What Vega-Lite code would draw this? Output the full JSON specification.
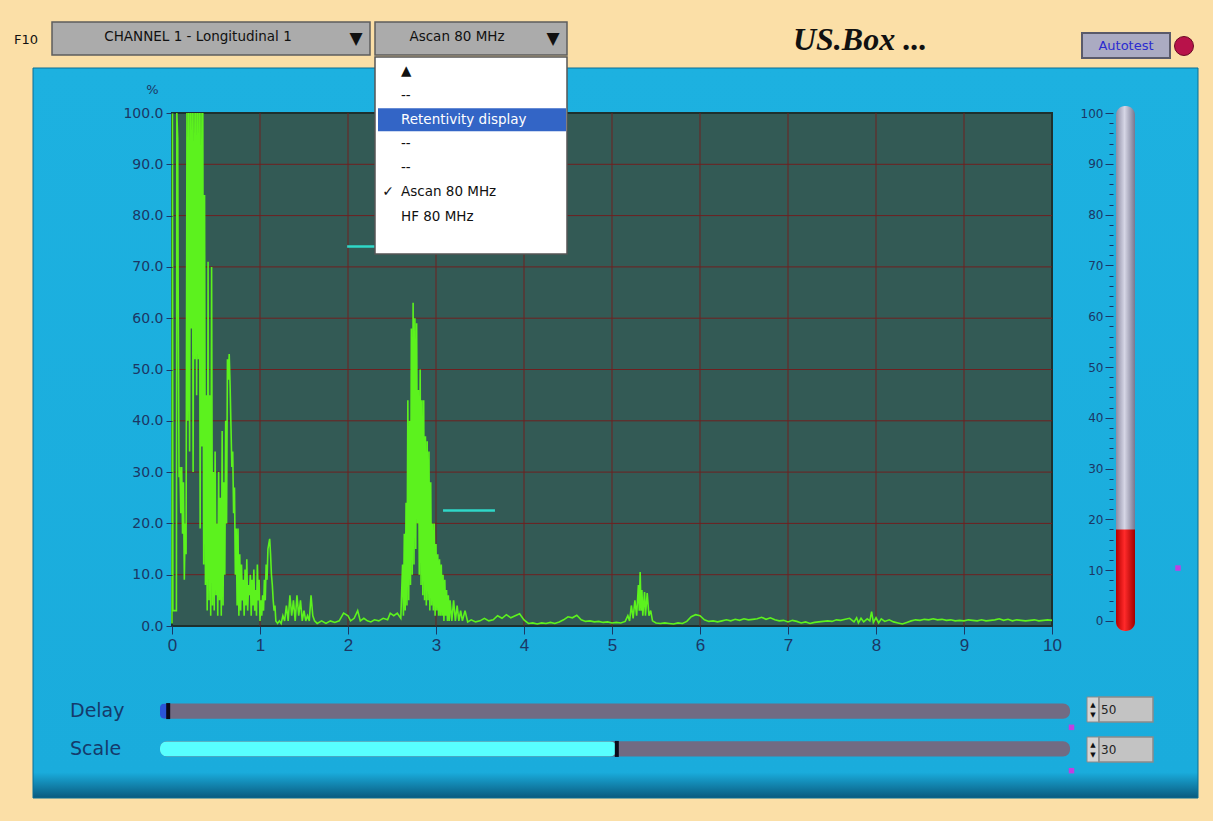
{
  "$schema": "https://vega.github.io/schema/vega-lite/v6.json",
  "width": 880,
  "height": 513,
  "autosize": "none",
  "padding": {"left": 172, "top": 113, "right": 161, "bottom": 195},
  "background": "#FBDFA7",
  "config": {"view": {"stroke": null}},
  "resolve": {"scale": {"x": "independent", "y": "independent"}, "axis": {"x": "independent", "y": "independent"}},
  "layer": [
    {
      "data": {"values": [{"panel": "US.Box"}]},
      "mark": {"type": "rect", "stroke": "#0B6E95", "strokeWidth": 1, "fill": {"gradient": "linear", "x1": 0, "y1": 0, "x2": 0, "y2": 1, "stops": [{"offset": 0, "color": "#1DB1E0"}, {"offset": 0.965, "color": "#1AACDC"}, {"offset": 1, "color": "#0A5A7E"}]}},
      "encoding": {
        "x": {"field": "panel", "type": "nominal", "scale": {"type": "band", "range": [-139, 1026], "paddingInner": 0, "paddingOuter": 0}, "axis": null},
        "y": {"field": "panel", "type": "nominal", "scale": {"type": "band", "range": [-45, 685], "paddingInner": 0, "paddingOuter": 0}, "axis": null}
      }
    },
    {
      "data": {"values": [{"area": "A-scan"}]},
      "mark": {"type": "rect", "fill": "#335A55", "stroke": "#1E302D", "strokeWidth": 2},
      "encoding": {
        "x": {"field": "area", "type": "nominal", "scale": {"type": "band", "range": [0, 880], "paddingInner": 0, "paddingOuter": 0}, "axis": null},
        "y": {"field": "area", "type": "nominal", "scale": {"type": "band", "range": [0, 513], "paddingInner": 0, "paddingOuter": 0}, "axis": null}
      }
    },
    {
      "layer": [
        {
          "data": {"values": [{"t": 1}, {"t": 2}, {"t": 3}, {"t": 4}, {"t": 5}, {"t": 6}, {"t": 7}, {"t": 8}, {"t": 9}]},
          "mark": {"type": "rule", "color": "#6E2020", "strokeWidth": 1},
          "encoding": {"x": {"field": "t", "type": "quantitative", "scale": {"domain": [0, 10], "nice": false, "zero": false}}}
        },
        {
          "data": {"values": [{"p": 10}, {"p": 20}, {"p": 30}, {"p": 40}, {"p": 50}, {"p": 60}, {"p": 70}, {"p": 80}, {"p": 90}]},
          "mark": {"type": "rule", "color": "#6E2020", "strokeWidth": 1},
          "encoding": {"y": {"field": "p", "type": "quantitative", "scale": {"domain": [0, 100], "nice": false}}}
        },
        {
          "data": {"values": [{"gate": "A", "start": 1.99, "end": 2.6, "level": 74}, {"gate": "B", "start": 3.08, "end": 3.67, "level": 22.5}]},
          "mark": {"type": "rule", "color": "#2FD8C8", "strokeWidth": 2.5},
          "encoding": {
            "x": {"field": "start", "type": "quantitative", "scale": {"domain": [0, 10], "nice": false, "zero": false}},
            "x2": {"field": "end"},
            "y": {"field": "level", "type": "quantitative", "scale": {"domain": [0, 100], "nice": false}}
          }
        },
        {
          "data": {"values": [
            {"time":0,"amplitude":0.5},{"time":0.005,"amplitude":100},{"time":0.01,"amplitude":3},{"time":0.03,"amplitude":3},{"time":0.05,"amplitude":3},{"time":0.055,"amplitude":100},{"time":0.065,"amplitude":95},{"time":0.07,"amplitude":67},{"time":0.08,"amplitude":29},{"time":0.09,"amplitude":31},{"time":0.1,"amplitude":22},{"time":0.11,"amplitude":31},{"time":0.12,"amplitude":18},{"time":0.13,"amplitude":28},{"time":0.14,"amplitude":9},{"time":0.15,"amplitude":20},{"time":0.16,"amplitude":14},{"time":0.17,"amplitude":100},{"time":0.18,"amplitude":40},{"time":0.19,"amplitude":100},{"time":0.2,"amplitude":34},{"time":0.21,"amplitude":100},{"time":0.22,"amplitude":58},{"time":0.23,"amplitude":100},{"time":0.24,"amplitude":30},{"time":0.25,"amplitude":100},{"time":0.26,"amplitude":52},{"time":0.27,"amplitude":100},{"time":0.28,"amplitude":45},{"time":0.29,"amplitude":100},{"time":0.3,"amplitude":52},{"time":0.31,"amplitude":100},{"time":0.32,"amplitude":19},{"time":0.33,"amplitude":100},{"time":0.34,"amplitude":35},{"time":0.35,"amplitude":100},{"time":0.36,"amplitude":12},{"time":0.37,"amplitude":84},{"time":0.38,"amplitude":8},{"time":0.39,"amplitude":45},{"time":0.4,"amplitude":3},{"time":0.41,"amplitude":71},{"time":0.42,"amplitude":5},{"time":0.43,"amplitude":45},{"time":0.44,"amplitude":2},{"time":0.45,"amplitude":70},{"time":0.46,"amplitude":4},{"time":0.47,"amplitude":30},{"time":0.48,"amplitude":3},{"time":0.49,"amplitude":34},{"time":0.5,"amplitude":6},{"time":0.51,"amplitude":20},{"time":0.52,"amplitude":2},{"time":0.53,"amplitude":30},{"time":0.54,"amplitude":5},{"time":0.55,"amplitude":25},{"time":0.56,"amplitude":2},{"time":0.57,"amplitude":38},{"time":0.58,"amplitude":4},{"time":0.59,"amplitude":28},{"time":0.6,"amplitude":10},{"time":0.61,"amplitude":40},{"time":0.62,"amplitude":20},{"time":0.63,"amplitude":52},{"time":0.64,"amplitude":48},{"time":0.65,"amplitude":53},{"time":0.66,"amplitude":47},{"time":0.67,"amplitude":39},{"time":0.68,"amplitude":31},{"time":0.69,"amplitude":34},{"time":0.7,"amplitude":22},{"time":0.71,"amplitude":27},{"time":0.72,"amplitude":10},{"time":0.73,"amplitude":19},{"time":0.74,"amplitude":4},{"time":0.75,"amplitude":19},{"time":0.76,"amplitude":2},{"time":0.77,"amplitude":14},{"time":0.78,"amplitude":3},{"time":0.79,"amplitude":12},{"time":0.8,"amplitude":5},{"time":0.81,"amplitude":9},{"time":0.82,"amplitude":2},{"time":0.83,"amplitude":11},{"time":0.84,"amplitude":4},{"time":0.85,"amplitude":13},{"time":0.86,"amplitude":3},{"time":0.87,"amplitude":8},{"time":0.88,"amplitude":6},{"time":0.89,"amplitude":10},{"time":0.9,"amplitude":2},{"time":0.91,"amplitude":9},{"time":0.92,"amplitude":4},{"time":0.93,"amplitude":11},{"time":0.94,"amplitude":3},{"time":0.95,"amplitude":7},{"time":0.96,"amplitude":2},{"time":0.97,"amplitude":12},{"time":0.98,"amplitude":5},{"time":0.99,"amplitude":9},{"time":1,"amplitude":1},{"time":1.01,"amplitude":5},{"time":1.02,"amplitude":2},{"time":1.03,"amplitude":6},{"time":1.04,"amplitude":3},{"time":1.05,"amplitude":9},{"time":1.06,"amplitude":5},{"time":1.07,"amplitude":12},{"time":1.08,"amplitude":9},{"time":1.09,"amplitude":15},{"time":1.1,"amplitude":16},{"time":1.11,"amplitude":17},{"time":1.12,"amplitude":14},{"time":1.13,"amplitude":10},{"time":1.14,"amplitude":8},{"time":1.15,"amplitude":5},{"time":1.16,"amplitude":3},{"time":1.17,"amplitude":4},{"time":1.18,"amplitude":1},{"time":1.2,"amplitude":0.5},{"time":1.22,"amplitude":1},{"time":1.24,"amplitude":0.5},{"time":1.26,"amplitude":2},{"time":1.28,"amplitude":1},{"time":1.3,"amplitude":4},{"time":1.32,"amplitude":1},{"time":1.34,"amplitude":6},{"time":1.36,"amplitude":2},{"time":1.38,"amplitude":5},{"time":1.4,"amplitude":1},{"time":1.42,"amplitude":6},{"time":1.44,"amplitude":2},{"time":1.46,"amplitude":5},{"time":1.48,"amplitude":1},{"time":1.5,"amplitude":3},{"time":1.52,"amplitude":1},{"time":1.54,"amplitude":2},{"time":1.56,"amplitude":1},{"time":1.58,"amplitude":6},{"time":1.6,"amplitude":2},{"time":1.62,"amplitude":1},{"time":1.65,"amplitude":0.5},{"time":1.7,"amplitude":1},{"time":1.75,"amplitude":0.5},{"time":1.8,"amplitude":1},{"time":1.85,"amplitude":0.7},{"time":1.9,"amplitude":1},{"time":1.95,"amplitude":2.5},{"time":2,"amplitude":2},{"time":2.03,"amplitude":1},{"time":2.07,"amplitude":1.5},{"time":2.11,"amplitude":3},{"time":2.14,"amplitude":1},{"time":2.18,"amplitude":1.5},{"time":2.22,"amplitude":1},{"time":2.26,"amplitude":0.8},{"time":2.3,"amplitude":1.2},{"time":2.35,"amplitude":1},{"time":2.4,"amplitude":1.5},{"time":2.45,"amplitude":1.2},{"time":2.48,"amplitude":2.5},{"time":2.52,"amplitude":2},{"time":2.56,"amplitude":2.5},{"time":2.6,"amplitude":1.5},{"time":2.62,"amplitude":12},{"time":2.63,"amplitude":2},{"time":2.64,"amplitude":18},{"time":2.65,"amplitude":3},{"time":2.66,"amplitude":24},{"time":2.67,"amplitude":4},{"time":2.68,"amplitude":44},{"time":2.69,"amplitude":5},{"time":2.7,"amplitude":40},{"time":2.71,"amplitude":8},{"time":2.72,"amplitude":58},{"time":2.73,"amplitude":10},{"time":2.74,"amplitude":63},{"time":2.75,"amplitude":12},{"time":2.76,"amplitude":60},{"time":2.77,"amplitude":15},{"time":2.78,"amplitude":59},{"time":2.79,"amplitude":20},{"time":2.8,"amplitude":46},{"time":2.81,"amplitude":10},{"time":2.82,"amplitude":50},{"time":2.83,"amplitude":8},{"time":2.84,"amplitude":44},{"time":2.85,"amplitude":6},{"time":2.86,"amplitude":44},{"time":2.87,"amplitude":5},{"time":2.88,"amplitude":37},{"time":2.89,"amplitude":4},{"time":2.9,"amplitude":36},{"time":2.91,"amplitude":5},{"time":2.92,"amplitude":34},{"time":2.93,"amplitude":3},{"time":2.94,"amplitude":28},{"time":2.95,"amplitude":4},{"time":2.96,"amplitude":20},{"time":2.97,"amplitude":3},{"time":2.98,"amplitude":20},{"time":2.99,"amplitude":2},{"time":3,"amplitude":16},{"time":3.01,"amplitude":3},{"time":3.02,"amplitude":14},{"time":3.03,"amplitude":2},{"time":3.04,"amplitude":13},{"time":3.05,"amplitude":2},{"time":3.06,"amplitude":12},{"time":3.07,"amplitude":2},{"time":3.08,"amplitude":10},{"time":3.09,"amplitude":1},{"time":3.1,"amplitude":9},{"time":3.11,"amplitude":2},{"time":3.12,"amplitude":7},{"time":3.13,"amplitude":1},{"time":3.14,"amplitude":6},{"time":3.15,"amplitude":1},{"time":3.16,"amplitude":5},{"time":3.18,"amplitude":1},{"time":3.2,"amplitude":5},{"time":3.22,"amplitude":1},{"time":3.24,"amplitude":4},{"time":3.26,"amplitude":1},{"time":3.28,"amplitude":3},{"time":3.3,"amplitude":1},{"time":3.33,"amplitude":3},{"time":3.36,"amplitude":0.8},{"time":3.4,"amplitude":1.2},{"time":3.45,"amplitude":0.8},{"time":3.5,"amplitude":1},{"time":3.55,"amplitude":1.5},{"time":3.6,"amplitude":1},{"time":3.65,"amplitude":1.2},{"time":3.7,"amplitude":2},{"time":3.75,"amplitude":1.5},{"time":3.8,"amplitude":2.2},{"time":3.85,"amplitude":1.6},{"time":3.9,"amplitude":2},{"time":3.95,"amplitude":2.4},{"time":4,"amplitude":1.2},{"time":4.05,"amplitude":0.5},{"time":4.1,"amplitude":0.6},{"time":4.15,"amplitude":0.4},{"time":4.2,"amplitude":0.6},{"time":4.25,"amplitude":0.5},{"time":4.3,"amplitude":0.7},{"time":4.35,"amplitude":0.5},{"time":4.4,"amplitude":0.8},{"time":4.45,"amplitude":1.2},{"time":4.5,"amplitude":1.8},{"time":4.55,"amplitude":1.6},{"time":4.6,"amplitude":2.1},{"time":4.65,"amplitude":1.2},{"time":4.7,"amplitude":0.9},{"time":4.75,"amplitude":1},{"time":4.8,"amplitude":0.8},{"time":4.85,"amplitude":0.9},{"time":4.9,"amplitude":0.7},{"time":4.95,"amplitude":0.8},{"time":5,"amplitude":0.6},{"time":5.05,"amplitude":0.7},{"time":5.1,"amplitude":0.6},{"time":5.15,"amplitude":0.9},{"time":5.18,"amplitude":2},{"time":5.2,"amplitude":1},{"time":5.22,"amplitude":4},{"time":5.24,"amplitude":1.5},{"time":5.26,"amplitude":5},{"time":5.28,"amplitude":2},{"time":5.3,"amplitude":8},{"time":5.31,"amplitude":3},{"time":5.32,"amplitude":10.5},{"time":5.33,"amplitude":3},{"time":5.34,"amplitude":7},{"time":5.35,"amplitude":2},{"time":5.37,"amplitude":6.6},{"time":5.38,"amplitude":2},{"time":5.4,"amplitude":6.4},{"time":5.42,"amplitude":2},{"time":5.44,"amplitude":3},{"time":5.46,"amplitude":1},{"time":5.5,"amplitude":0.6},{"time":5.55,"amplitude":0.5},{"time":5.6,"amplitude":0.6},{"time":5.65,"amplitude":0.5},{"time":5.7,"amplitude":0.4},{"time":5.75,"amplitude":0.6},{"time":5.8,"amplitude":0.5},{"time":5.85,"amplitude":0.9},{"time":5.9,"amplitude":1.8},{"time":5.95,"amplitude":2.2},{"time":6,"amplitude":2},{"time":6.05,"amplitude":1.2},{"time":6.1,"amplitude":0.9},{"time":6.15,"amplitude":1},{"time":6.2,"amplitude":0.8},{"time":6.25,"amplitude":1},{"time":6.3,"amplitude":1.2},{"time":6.35,"amplitude":1},{"time":6.4,"amplitude":1.3},{"time":6.45,"amplitude":1.1},{"time":6.5,"amplitude":1.4},{"time":6.55,"amplitude":1.2},{"time":6.6,"amplitude":1.3},{"time":6.65,"amplitude":1.4},{"time":6.7,"amplitude":1.7},{"time":6.75,"amplitude":1.3},{"time":6.8,"amplitude":1.6},{"time":6.85,"amplitude":1.2},{"time":6.9,"amplitude":1},{"time":6.95,"amplitude":1.1},{"time":7,"amplitude":0.8},{"time":7.05,"amplitude":1.1},{"time":7.1,"amplitude":0.9},{"time":7.15,"amplitude":0.6},{"time":7.2,"amplitude":0.8},{"time":7.25,"amplitude":0.5},{"time":7.3,"amplitude":0.7},{"time":7.35,"amplitude":0.8},{"time":7.4,"amplitude":0.9},{"time":7.45,"amplitude":1},{"time":7.5,"amplitude":0.9},{"time":7.55,"amplitude":1.2},{"time":7.6,"amplitude":1.1},{"time":7.65,"amplitude":1.3},{"time":7.7,"amplitude":1.5},{"time":7.75,"amplitude":0.8},{"time":7.78,"amplitude":1.6},{"time":7.8,"amplitude":0.6},{"time":7.83,"amplitude":1.5},{"time":7.86,"amplitude":0.8},{"time":7.9,"amplitude":1.4},{"time":7.93,"amplitude":1},{"time":7.95,"amplitude":2.8},{"time":7.97,"amplitude":0.7},{"time":8,"amplitude":1.6},{"time":8.03,"amplitude":0.6},{"time":8.06,"amplitude":1.4},{"time":8.1,"amplitude":0.9},{"time":8.15,"amplitude":1.2},{"time":8.2,"amplitude":0.8},{"time":8.25,"amplitude":0.6},{"time":8.3,"amplitude":0.4},{"time":8.35,"amplitude":0.7},{"time":8.4,"amplitude":1},{"time":8.45,"amplitude":1.2},{"time":8.5,"amplitude":1.1},{"time":8.55,"amplitude":1.3},{"time":8.6,"amplitude":1.2},{"time":8.65,"amplitude":1.4},{"time":8.7,"amplitude":1.2},{"time":8.75,"amplitude":1.3},{"time":8.8,"amplitude":1.1},{"time":8.85,"amplitude":1.2},{"time":8.9,"amplitude":1},{"time":8.95,"amplitude":1.1},{"time":9,"amplitude":1},{"time":9.05,"amplitude":1.2},{"time":9.1,"amplitude":1.1},{"time":9.15,"amplitude":1},{"time":9.2,"amplitude":1.2},{"time":9.25,"amplitude":1},{"time":9.3,"amplitude":1.1},{"time":9.35,"amplitude":1.2},{"time":9.4,"amplitude":1.4},{"time":9.45,"amplitude":1.1},{"time":9.5,"amplitude":1.3},{"time":9.55,"amplitude":1},{"time":9.6,"amplitude":1.2},{"time":9.65,"amplitude":1.1},{"time":9.7,"amplitude":1},{"time":9.75,"amplitude":1.1},{"time":9.8,"amplitude":1.2},{"time":9.85,"amplitude":1},{"time":9.9,"amplitude":1.1},{"time":9.95,"amplitude":1.2},{"time":10,"amplitude":1.1}
          ]},
          "mark": {"type": "line", "color": "#5CF21E", "strokeWidth": 1.6},
          "encoding": {
            "x": {"field": "time", "type": "quantitative", "scale": {"domain": [0, 10], "nice": false, "zero": false},
                  "axis": {"orient": "bottom", "values": [0,1,2,3,4,5,6,7,8,9,10], "format": "d", "title": null, "grid": false, "domain": false, "tickSize": 8, "tickColor": "#1C3765", "labelFont": "Liberation Sans", "labelFontSize": 17, "labelColor": "#1C3765", "labelPadding": 3, "labelFlush": false, "labelOverlap": false, "zindex": 1}},
            "y": {"field": "amplitude", "type": "quantitative", "scale": {"domain": [0, 100], "nice": false},
                  "axis": {"orient": "left", "values": [0,10,20,30,40,50,60,70,80,90,100], "format": ".1f", "title": "%", "titleAngle": 0, "titleX": -20, "titleY": -24, "titleAlign": "center", "titleBaseline": "middle", "titleFont": "DejaVu Sans", "titleFontSize": 13, "titleFontWeight": "normal", "titleColor": "#1C3765", "grid": false, "domain": false, "tickSize": 6, "tickColor": "#1C3765", "labelFont": "DejaVu Sans", "labelFontSize": 14, "labelColor": "#1C3765", "labelPadding": 3, "labelFlush": false, "labelOverlap": false, "zindex": 1}}
          }
        }
      ]
    },
    {
      "data": {"values": [{"gauge": "Level"}]},
      "mark": {"type": "rect", "cornerRadius": 9, "fill": {"gradient": "linear", "x1": 0, "y1": 0, "x2": 1, "y2": 0, "stops": [{"offset": 0, "color": "#8C8CA4"}, {"offset": 0.45, "color": "#D6D6E6"}, {"offset": 1, "color": "#77778F"}]}},
      "encoding": {
        "x": {"field": "gauge", "type": "nominal", "scale": {"type": "band", "range": [944, 963], "paddingInner": 0, "paddingOuter": 0}, "axis": null},
        "y": {"field": "gauge", "type": "nominal", "scale": {"type": "band", "range": [-7, 518], "paddingInner": 0, "paddingOuter": 0}, "axis": null}
      }
    },
    {
      "data": {"values": [{"gauge": "Level"}]},
      "mark": {"type": "rect", "cornerRadius": 9, "fill": {"gradient": "linear", "x1": 0, "y1": 0, "x2": 1, "y2": 0, "stops": [{"offset": 0, "color": "#B80000"}, {"offset": 0.45, "color": "#FF2A2A"}, {"offset": 1, "color": "#A00000"}]}},
      "encoding": {
        "x": {"field": "gauge", "type": "nominal", "scale": {"type": "band", "range": [944, 963], "paddingInner": 0, "paddingOuter": 0}, "axis": null},
        "y": {"field": "gauge", "type": "nominal", "scale": {"type": "band", "range": [499, 518], "paddingInner": 0, "paddingOuter": 0}, "axis": null}
      }
    },
    {
      "data": {"values": [{"gauge": "Level", "reading": 18}]},
      "mark": {"type": "bar", "opacity": 0},
      "encoding": {
        "x": {"field": "gauge", "type": "nominal", "scale": {"type": "band", "range": [944, 963], "paddingInner": 0, "paddingOuter": 0}, "axis": null},
        "y": {"field": "reading", "type": "quantitative", "scale": {"domain": [-2, 102], "range": [518, -10], "nice": false, "zero": false},
              "axis": {"orient": "left", "offset": -941, "values": [2,4,6,8,12,14,16,18,22,24,26,28,32,34,36,38,42,44,46,48,52,54,56,58,62,64,66,68,72,74,76,78,82,84,86,88,92,94,96,98], "labels": false, "title": null, "grid": false, "domain": false, "tickSize": 4, "tickColor": "#1C3765", "zindex": 1}}
      }
    },
    {
      "data": {"values": [{"gauge": "Level", "reading": 18}]},
      "mark": {"type": "bar", "fill": {"gradient": "linear", "x1": 0, "y1": 0, "x2": 1, "y2": 0, "stops": [{"offset": 0, "color": "#B80000"}, {"offset": 0.45, "color": "#FF2A2A"}, {"offset": 1, "color": "#A00000"}]}},
      "encoding": {
        "x": {"field": "gauge", "type": "nominal", "scale": {"type": "band", "range": [944, 963], "paddingInner": 0, "paddingOuter": 0}, "axis": null},
        "y": {"field": "reading", "type": "quantitative", "scale": {"domain": [-2, 102], "range": [518, -10], "nice": false, "zero": false},
              "axis": {"orient": "left", "offset": -941, "values": [0,10,20,30,40,50,60,70,80,90,100], "title": null, "grid": false, "domain": false, "tickSize": 8, "tickColor": "#1C3765", "labelFont": "DejaVu Sans", "labelFontSize": 12, "labelColor": "#1C3765", "labelPadding": 2, "labelFlush": false, "labelOverlap": false, "zindex": 1}}
      }
    },
    {
      "data": {"values": [{"marker": "Alarm level", "level": 10.4}]},
      "mark": {"type": "square", "size": 30, "color": "#C040E0", "opacity": 1},
      "encoding": {
        "x": {"field": "marker", "type": "nominal", "scale": {"type": "band", "range": [1001, 1011], "paddingInner": 0, "paddingOuter": 0}, "axis": null},
        "y": {"field": "level", "type": "quantitative", "scale": {"domain": [-2, 102], "range": [518, -10], "nice": false, "zero": false}, "axis": null}
      }
    },
    {
      "data": {"values": [{"track": "slider", "control": "Delay"}, {"track": "slider", "control": "Scale"}]},
      "mark": {"type": "rect", "fill": "#716B83", "cornerRadius": 7},
      "encoding": {
        "x": {"field": "track", "type": "nominal", "scale": {"type": "band", "range": [-12, 898], "paddingInner": 0, "paddingOuter": 0}, "axis": null},
        "y": {"field": "control", "type": "nominal", "scale": {"type": "band", "domain": ["Delay", "Scale"], "range": [590.5, 643.5], "paddingInner": 0.6, "paddingOuter": 0}, "axis": null}
      }
    },
    {
      "data": {"values": [{"control": "Delay", "position": 0.9}, {"control": "Scale", "position": 50.2}]},
      "mark": {"type": "bar", "cornerRadius": 7, "opacity": 1},
      "encoding": {
        "x": {"field": "position", "type": "quantitative", "scale": {"domain": [0, 100], "range": [-12, 898], "nice": false, "zero": false}, "axis": null},
        "y": {"field": "control", "type": "nominal", "scale": {"type": "band", "domain": ["Delay", "Scale"], "range": [590.5, 643.5], "paddingInner": 0.6, "paddingOuter": 0}, "axis": null},
        "color": {"field": "control", "type": "nominal", "scale": {"domain": ["Delay", "Scale"], "range": ["#2A55D8", "#58FFFF"]}, "legend": null}
      }
    },
    {
      "data": {"values": [{"control": "Delay", "position": 0.9}, {"control": "Scale", "position": 50.2}]},
      "mark": {"type": "tick", "color": "#0A0A1A", "thickness": 4, "size": 16, "opacity": 1},
      "encoding": {
        "x": {"field": "position", "type": "quantitative", "scale": {"domain": [0, 100], "range": [-12, 898], "nice": false, "zero": false}, "axis": null},
        "y": {"field": "control", "type": "nominal", "scale": {"type": "band", "domain": ["Delay", "Scale"], "range": [590.5, 643.5], "paddingInner": 0.6, "paddingOuter": 0}, "axis": null}
      }
    },
    {
      "data": {"values": [{"column": "labels", "control": "Delay"}, {"column": "labels", "control": "Scale"}]},
      "mark": {"type": "text", "align": "left", "baseline": "middle", "dx": -31, "font": "DejaVu Sans", "fontSize": 19, "color": "#153A6B"},
      "encoding": {
        "x": {"field": "column", "type": "nominal", "scale": {"type": "band", "range": [-102, -40], "paddingInner": 0, "paddingOuter": 0}, "axis": null},
        "y": {"field": "control", "type": "nominal", "scale": {"type": "band", "domain": ["Delay", "Scale"], "range": [590.5, 643.5], "paddingInner": 0.6, "paddingOuter": 0}, "axis": null},
        "text": {"field": "control", "type": "nominal"}
      }
    },
    {
      "data": {"values": [{"column": "marker", "control": "Delay"}, {"column": "marker", "control": "Scale"}]},
      "mark": {"type": "square", "size": 30, "color": "#C040E0", "opacity": 1},
      "encoding": {
        "x": {"field": "column", "type": "nominal", "scale": {"type": "band", "range": [895, 904], "paddingInner": 0, "paddingOuter": 0}, "axis": null},
        "y": {"field": "control", "type": "nominal", "scale": {"type": "band", "domain": ["Delay", "Scale"], "range": [610, 662], "paddingInner": 0.8, "paddingOuter": 0}, "axis": null}
      }
    },
    {
      "data": {"values": [{"column": "spinner", "control": "Delay"}, {"column": "spinner", "control": "Scale"}]},
      "encoding": {
        "x": {"field": "column", "type": "nominal", "scale": {"type": "band", "range": [915, 927], "paddingInner": 0, "paddingOuter": 0}, "axis": null},
        "y": {"field": "control", "type": "nominal", "scale": {"type": "band", "domain": ["Delay", "Scale"], "range": [584, 649], "paddingInner": 0.375, "paddingOuter": 0}, "axis": null}
      },
      "layer": [
        {"mark": {"type": "rect", "fill": "#D4D4D4", "stroke": "#8A8A8A", "strokeWidth": 1}, "encoding": {}},
        {"mark": {"type": "text", "text": "▲", "align": "center", "baseline": "middle", "dy": -5, "font": "DejaVu Sans", "fontSize": 7, "color": "#111111"}, "encoding": {}},
        {"mark": {"type": "text", "text": "▼", "align": "center", "baseline": "middle", "dy": 5, "font": "DejaVu Sans", "fontSize": 7, "color": "#111111"}, "encoding": {}}
      ]
    },
    {
      "data": {"values": [{"column": "value", "control": "Delay", "setting": 50}, {"column": "value", "control": "Scale", "setting": 30}]},
      "encoding": {
        "x": {"field": "column", "type": "nominal", "scale": {"type": "band", "range": [927, 981], "paddingInner": 0, "paddingOuter": 0}, "axis": null},
        "y": {"field": "control", "type": "nominal", "scale": {"type": "band", "domain": ["Delay", "Scale"], "range": [584, 649], "paddingInner": 0.375, "paddingOuter": 0}, "axis": null}
      },
      "layer": [
        {"mark": {"type": "rect", "fill": "#C3C3C3", "stroke": "#8A8A8A", "strokeWidth": 1.5}, "encoding": {}},
        {"mark": {"type": "text", "align": "left", "baseline": "middle", "dx": -25, "font": "DejaVu Sans", "fontSize": 12, "color": "#222222"}, "encoding": {"text": {"field": "setting", "type": "nominal"}}}
      ]
    },
    {
      "data": {"values": [{"station": "F10"}]},
      "mark": {"type": "text", "align": "center", "baseline": "middle", "font": "DejaVu Sans", "fontSize": 13, "color": "#111111"},
      "encoding": {
        "x": {"field": "station", "type": "nominal", "scale": {"type": "band", "range": [-160, -132], "paddingInner": 0, "paddingOuter": 0}, "axis": null},
        "y": {"field": "station", "type": "nominal", "scale": {"type": "band", "range": [-90, -56], "paddingInner": 0, "paddingOuter": 0}, "axis": null},
        "text": {"field": "station", "type": "nominal"}
      }
    },
    {
      "data": {"values": [{"selector": "CHANNEL 1 - Longitudinal 1"}]},
      "encoding": {
        "x": {"field": "selector", "type": "nominal", "scale": {"type": "band", "range": [-120, 198], "paddingInner": 0, "paddingOuter": 0}, "axis": null},
        "y": {"field": "selector", "type": "nominal", "scale": {"type": "band", "range": [-91, -58], "paddingInner": 0, "paddingOuter": 0}, "axis": null}
      },
      "layer": [
        {"mark": {"type": "rect", "fill": "#ABABAB", "stroke": "#5E5E5E", "strokeWidth": 1.5}, "encoding": {}},
        {"mark": {"type": "text", "align": "center", "baseline": "middle", "dx": -13, "dy": -2, "font": "DejaVu Sans", "fontSize": 13.5, "color": "#111111"}, "encoding": {"text": {"field": "selector", "type": "nominal"}}},
        {"mark": {"type": "text", "text": "▼", "align": "center", "baseline": "middle", "dx": 145, "font": "DejaVu Sans", "fontSize": 17, "color": "#111111"}, "encoding": {}}
      ]
    },
    {
      "data": {"values": [{"selector": "Ascan 80 MHz"}]},
      "encoding": {
        "x": {"field": "selector", "type": "nominal", "scale": {"type": "band", "range": [203, 395], "paddingInner": 0, "paddingOuter": 0}, "axis": null},
        "y": {"field": "selector", "type": "nominal", "scale": {"type": "band", "range": [-91, -58], "paddingInner": 0, "paddingOuter": 0}, "axis": null}
      },
      "layer": [
        {"mark": {"type": "rect", "fill": "#ABABAB", "stroke": "#5E5E5E", "strokeWidth": 1.5}, "encoding": {}},
        {"mark": {"type": "text", "align": "center", "baseline": "middle", "dx": -14, "dy": -2, "font": "DejaVu Sans", "fontSize": 13.5, "color": "#111111"}, "encoding": {"text": {"field": "selector", "type": "nominal"}}},
        {"mark": {"type": "text", "text": "▼", "align": "center", "baseline": "middle", "dx": 82, "font": "DejaVu Sans", "fontSize": 17, "color": "#111111"}, "encoding": {}}
      ]
    },
    {
      "data": {"values": [{"title": "US.Box ..."}]},
      "mark": {"type": "text", "align": "center", "baseline": "middle", "font": "Liberation Serif", "fontSize": 32, "fontStyle": "italic", "fontWeight": "bold", "color": "#111111"},
      "encoding": {
        "x": {"field": "title", "type": "nominal", "scale": {"type": "band", "range": [611, 765], "paddingInner": 0, "paddingOuter": 0}, "axis": null},
        "y": {"field": "title", "type": "nominal", "scale": {"type": "band", "range": [-90, -56], "paddingInner": 0, "paddingOuter": 0}, "axis": null},
        "text": {"field": "title", "type": "nominal"}
      }
    },
    {
      "data": {"values": [{"button": "Autotest"}]},
      "encoding": {
        "x": {"field": "button", "type": "nominal", "scale": {"type": "band", "range": [910, 998], "paddingInner": 0, "paddingOuter": 0}, "axis": null},
        "y": {"field": "button", "type": "nominal", "scale": {"type": "band", "range": [-80, -55], "paddingInner": 0, "paddingOuter": 0}, "axis": null}
      },
      "layer": [
        {"mark": {"type": "rect", "fill": "#ABABC2", "stroke": "#5A5A6A", "strokeWidth": 2}, "encoding": {}},
        {"mark": {"type": "text", "align": "center", "baseline": "middle", "font": "DejaVu Sans", "fontSize": 13, "color": "#2B2BD0"}, "encoding": {"text": {"field": "button", "type": "nominal"}}}
      ]
    },
    {
      "data": {"values": [{"indicator": "Autotest status"}]},
      "mark": {"type": "point", "shape": "circle", "size": 360, "filled": true, "opacity": 1, "stroke": "#6A0A25", "strokeWidth": 1, "color": "#B8124A"},
      "encoding": {
        "x": {"field": "indicator", "type": "nominal", "scale": {"type": "band", "range": [1002, 1022], "paddingInner": 0, "paddingOuter": 0}, "axis": null},
        "y": {"field": "indicator", "type": "nominal", "scale": {"type": "band", "range": [-77, -57], "paddingInner": 0, "paddingOuter": 0}, "axis": null}
      }
    },
    {
      "data": {"values": [{"menu": "Display mode"}]},
      "mark": {"type": "rect", "fill": "#FFFFFF", "stroke": "#555555", "strokeWidth": 1.5},
      "encoding": {
        "x": {"field": "menu", "type": "nominal", "scale": {"type": "band", "range": [203, 395], "paddingInner": 0, "paddingOuter": 0}, "axis": null},
        "y": {"field": "menu", "type": "nominal", "scale": {"type": "band", "range": [-56, 141], "paddingInner": 0, "paddingOuter": 0}, "axis": null}
      }
    },
    {
      "data": {"values": [
        {"menu": "Display mode", "slot": 1, "label": "▲", "highlighted": false, "checked": false},
        {"menu": "Display mode", "slot": 2, "label": "--", "highlighted": false, "checked": false},
        {"menu": "Display mode", "slot": 3, "label": "Retentivity display", "highlighted": true, "checked": false},
        {"menu": "Display mode", "slot": 4, "label": "--", "highlighted": false, "checked": false},
        {"menu": "Display mode", "slot": 5, "label": "--", "highlighted": false, "checked": false},
        {"menu": "Display mode", "slot": 6, "label": "Ascan 80 MHz", "highlighted": false, "checked": true},
        {"menu": "Display mode", "slot": 7, "label": "HF 80 MHz", "highlighted": false, "checked": false}
      ]},
      "encoding": {
        "x": {"field": "menu", "type": "nominal", "scale": {"type": "band", "range": [206, 394], "paddingInner": 0, "paddingOuter": 0}, "axis": null},
        "y": {"field": "slot", "type": "ordinal", "scale": {"type": "band", "range": [-53, 115], "paddingInner": 0.05, "paddingOuter": 0}, "axis": null}
      },
      "layer": [
        {"transform": [{"filter": "datum.highlighted"}], "mark": {"type": "rect", "fill": "#3365C6"}, "encoding": {}},
        {"mark": {"type": "text", "align": "left", "baseline": "middle", "dx": -71, "font": "DejaVu Sans", "fontSize": 13.5},
         "encoding": {"text": {"field": "label", "type": "nominal"}, "color": {"condition": {"test": "datum.highlighted", "value": "#FFFFFF"}, "value": "#111111"}}},
        {"transform": [{"filter": "datum.checked"}], "mark": {"type": "text", "text": "✓", "align": "center", "baseline": "middle", "dx": -84, "font": "DejaVu Sans", "fontSize": 14, "fontWeight": "bold", "color": "#111111"}, "encoding": {}}
      ]
    }
  ]
}
